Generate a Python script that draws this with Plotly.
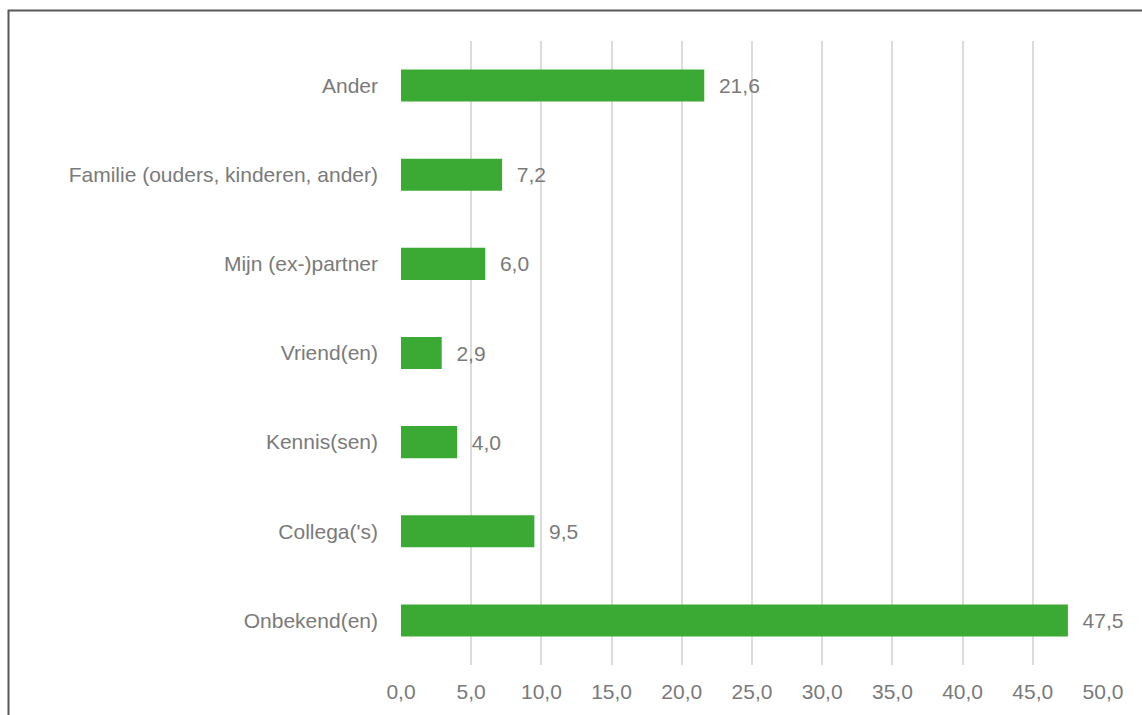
import plotly.graph_objects as go

categories = ["Ander", "Familie (ouders, kinderen, ander)", "Mijn (ex-)partner",
              "Vriend(en)", "Kennis(sen)", "Collega('s)", "Onbekend(en)"]
values = [21.6, 7.2, 6.0, 2.9, 4.0, 9.5, 47.5]
tick_vals = [0, 5, 10, 15, 20, 25, 30, 35, 40, 45, 50]

W, H = 1142, 715
L, R, T, B = 401, 39, 41, 50
pw, ph = W - L - R, H - T - B

gray = "#7a7a7a"
FS = 21
fam = "Liberation Sans, Arial"
fig = go.Figure(go.Bar(
    x=values, y=categories, orientation="h",
    marker=dict(color="#3aaa35", line=dict(width=0)),
    text=values, texttemplate="  %{x:.1f}", textposition="outside",
    textfont=dict(size=FS, color=gray, family=fam),
    cliponaxis=False,
))
fig.update_layout(
    width=W, height=H,
    margin=dict(l=L, r=R, t=T, b=B),
    paper_bgcolor="white", plot_bgcolor="white",
    separators=",.",
    bargap=0.64,
    showlegend=False,
    font=dict(family=fam, size=FS, color=gray),
    xaxis=dict(range=[0, 50], tickvals=tick_vals, tickformat=".1f",
               showgrid=True, gridcolor="#dcdcdc", gridwidth=2,
               zeroline=False, showline=False, ticks="",
               ticklabelstandoff=12, tickfont=dict(size=FS, color=gray)),
    yaxis=dict(autorange="reversed", showgrid=False, zeroline=False,
               showline=False, ticks="", ticklabelstandoff=22,
               tickfont=dict(size=FS, color=gray)),
    shapes=[dict(type="rect", xref="paper", yref="paper",
                 x0=(8.5 - L) / pw, x1=(W + 20 - L) / pw,
                 y0=-(B + 20) / ph, y1=(H - 10.5 - B) / ph,
                 line=dict(color="#595959", width=2), fillcolor="rgba(0,0,0,0)",
                 layer="above")],
)
fig.write_html("out.html",
               config={"displayModeBar": False},
               post_script="document.body.style.margin='0';document.body.style.overflow='hidden';")
